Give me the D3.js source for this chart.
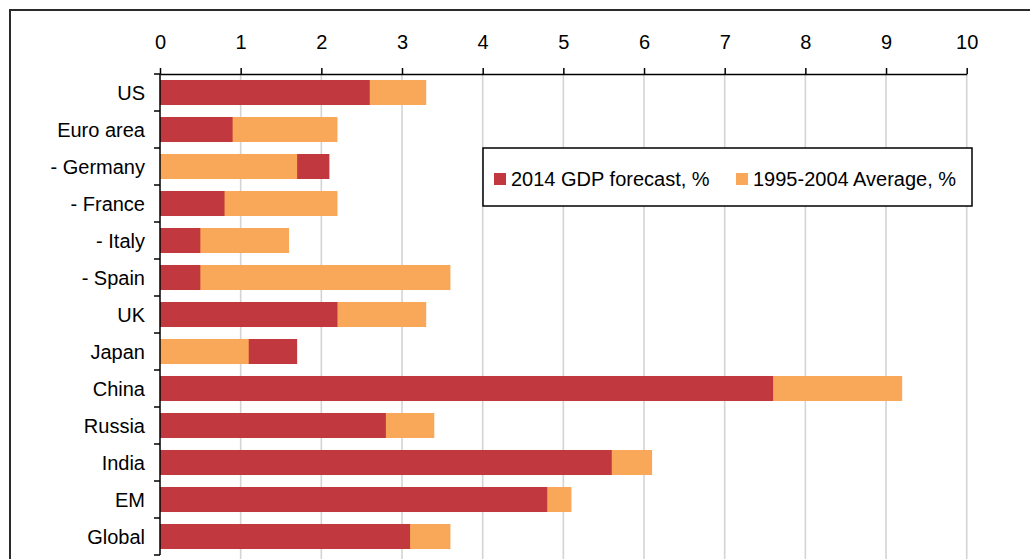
<!DOCTYPE html>
<html>
<head>
<meta charset="utf-8">
<script src="https://cdn.jsdelivr.net/npm/d3@7"></script>
<style>
  body { margin: 0; background: #fff; }
  text { font-family: "Liberation Sans", Arial, sans-serif; fill: #000; }
</style>
</head>
<body>
<div id="chart"></div>
<script>
// categories and series
const regions = ["US", "Euro area", "- Germany", "- France", "- Italy", "- Spain", "UK",
  "Japan", "China", "Russia", "India", "EM", "Global"];
const forecast2014 = [2.6, 0.9, 2.1, 0.8, 0.5, 0.5, 2.2, 1.7, 7.6, 2.8, 5.6, 4.8, 3.1];
const avg9504 = [3.3, 2.2, 1.7, 2.2, 1.6, 3.6, 3.3, 1.1, 9.2, 3.4, 6.1, 5.1, 3.6];
const xTicks = [0, 1, 2, 3, 4, 5, 6, 7, 8, 9, 10];
const seriesNames = ["2014 GDP forecast, %", "1995-2004 Average, %"];

const colors = ["#c1393f", "#f8a858"];

const W = 1030, H = 559;
const svg = d3.select("#chart").append("svg")
  .attr("width", W).attr("height", H);

// outer frame (runs off the right and bottom edge)
svg.append("rect")
  .attr("x", 10).attr("y", 10)
  .attr("width", W + 20).attr("height", H + 20)
  .attr("fill", "#fff").attr("stroke", "#2b2b2b").attr("stroke-width", 2);

const x = d3.scaleLinear().domain([0, 10]).range([160, 966.7]);
const y = d3.scaleBand().domain(regions).range([74, 555])
  .paddingInner(0.324).paddingOuter(0.162);

// gridlines
svg.append("g").selectAll("line")
  .data(xTicks.slice(1))
  .enter().append("line")
  .attr("x1", d => x(d)).attr("x2", d => x(d))
  .attr("y1", 74).attr("y2", H)
  .attr("stroke", "#d4d4d4").attr("stroke-width", 1.6);

// bars: longer one behind, shorter one in front
const rows = regions.map((r, i) => {
  const vals = [{ s: 0, v: forecast2014[i] }, { s: 1, v: avg9504[i] }];
  vals.sort((a, b) => b.v - a.v);
  return { r, vals };
});

const rowG = svg.append("g").selectAll("g")
  .data(rows).enter().append("g");

rowG.selectAll("rect")
  .data(d => d.vals.map(v => ({ r: d.r, s: v.s, v: v.v })))
  .enter().append("rect")
  .attr("x", x(0))
  .attr("y", d => y(d.r))
  .attr("width", d => x(d.v) - x(0))
  .attr("height", y.bandwidth())
  .attr("fill", d => colors[d.s]);

// top axis
const xAxis = d3.axisTop(x).tickValues(xTicks).tickSize(6).tickSizeOuter(0).tickPadding(19);
const gx = svg.append("g").attr("transform", "translate(0,74)").call(xAxis);
gx.select(".domain").attr("stroke", "#000").attr("stroke-width", 1.5);
gx.selectAll(".tick line").attr("stroke", "#000").attr("stroke-width", 1.5);
gx.selectAll(".tick text")
  .style("font-family", "'Liberation Sans', Arial, sans-serif")
  .style("font-size", "20px").attr("fill", "#000");

// left axis line and band boundary ticks
const bounds = regions.map(r => y(r) - (y.step() - y.bandwidth()) / 2)
  .concat([y(regions[regions.length - 1]) + y.bandwidth() + (y.step() - y.bandwidth()) / 2]);
svg.append("line")
  .attr("x1", x(0)).attr("x2", x(0))
  .attr("y1", bounds[0]).attr("y2", bounds[bounds.length - 1])
  .attr("stroke", "#000").attr("stroke-width", 1.5);
svg.append("g").selectAll("line")
  .data(bounds).enter().append("line")
  .attr("x1", x(0) - 6).attr("x2", x(0))
  .attr("y1", d => d).attr("y2", d => d)
  .attr("stroke", "#000").attr("stroke-width", 1.5);

// category labels
svg.append("g").selectAll("text")
  .data(regions).enter().append("text")
  .attr("x", 145)
  .attr("y", d => y(d) + y.bandwidth() / 2)
  .attr("dy", "0.35em")
  .attr("text-anchor", "end")
  .style("font-size", "20px")
  .text(d => d);

// legend
const lg = svg.append("g");
lg.append("rect")
  .attr("x", 483).attr("y", 148).attr("width", 489).attr("height", 58)
  .attr("fill", "#fff").attr("stroke", "#000").attr("stroke-width", 1.5);
const lx = [494, 736];
seriesNames.forEach((name, i) => {
  lg.append("rect")
    .attr("x", lx[i]).attr("y", 173).attr("width", 12).attr("height", 12)
    .attr("fill", colors[i]);
  lg.append("text")
    .attr("x", lx[i] + 17).attr("y", 179).attr("dy", "0.35em")
    .style("font-size", "20px")
    .text(name);
});
</script>
</body>
</html>
